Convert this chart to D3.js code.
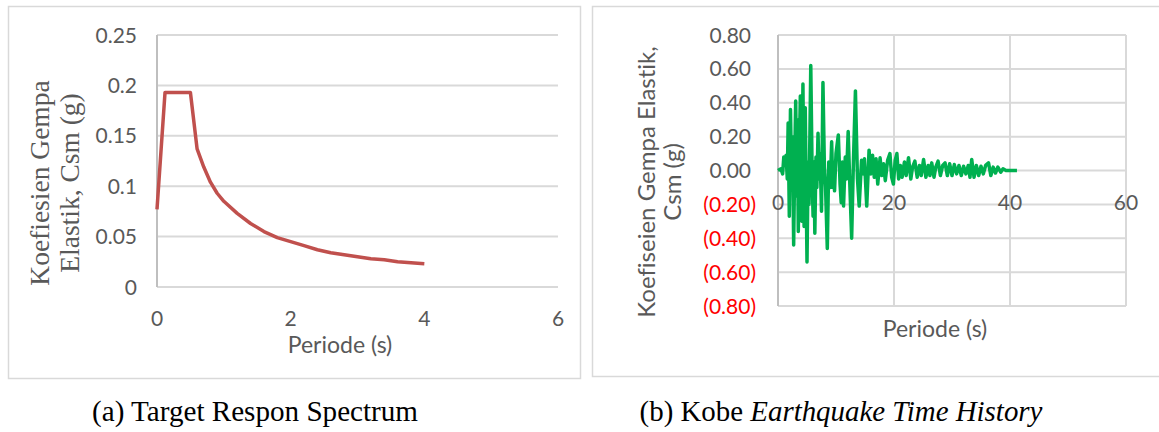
<!DOCTYPE html>
<html>
<head>
<meta charset="utf-8">
<script src="https://cdn.jsdelivr.net/npm/d3@7"></script>
<style>
  body { margin: 0; background: #fff; }
  svg { display: block; }
</style>
</head>
<body>
<svg id="chart" width="1159" height="432"></svg>
<script>
// Target response spectrum + Kobe time history, two panels side by side

// (a) spectrum
var specPeriod = [0, 0.12, 0.5, 0.6, 0.7, 0.8, 0.9, 1.0, 1.2, 1.4, 1.6, 1.8, 2.0,
                  2.2, 2.4, 2.6, 2.8, 3.0, 3.2, 3.4, 3.6, 3.8, 4.0];
var specCsm = [0.077, 0.193, 0.193, 0.137, 0.119, 0.104, 0.093, 0.085, 0.073, 0.063,
               0.055, 0.049, 0.045, 0.041, 0.037, 0.034, 0.032, 0.030, 0.028, 0.027,
               0.025, 0.024, 0.023];
var specXTicks = [0, 2, 4, 6];
var specYTicks = [0, 0.05, 0.1, 0.15, 0.2, 0.25];

// (b) Kobe record
var histTime = [0, 0.5, 0.8, 1.0, 1.2, 1.4, 1.6, 1.75, 1.95, 2.15, 2.35, 2.5, 2.7, 2.9,
  3.05, 3.25, 3.35, 3.5, 3.7, 3.85, 4.0, 4.1, 4.3, 4.5, 4.7, 4.85, 5.0, 5.2, 5.35, 5.65,
  5.9, 6.05, 6.2, 6.35, 6.55, 6.7, 6.9, 7.1, 7.25, 7.5, 7.75, 8.0, 8.2, 8.5, 8.75, 9.0,
  9.25, 9.45, 9.6, 9.75, 10.0, 10.4, 10.7, 10.9, 11.1, 11.3, 11.6, 11.8, 12.1, 12.35,
  12.7, 13.0, 13.35, 13.7, 14.0, 14.4, 14.7, 14.9, 15.3, 15.7, 16.0, 16.3, 16.6, 16.9,
  17.2, 17.6, 17.9, 18.2, 18.5, 18.9, 19.3, 19.6, 19.9, 20.2, 20.5, 20.8, 21.1, 21.4,
  21.8, 22.1, 22.5, 22.9, 23.2, 23.6, 24.0, 24.4, 24.7, 25.1, 25.5, 25.9, 26.2, 26.5,
  26.9, 27.2, 27.6, 28.0, 28.4, 28.8, 29.2, 29.6, 30.0, 30.4, 30.8, 31.2, 31.6, 32.0,
  32.4, 32.8, 33.1, 33.4, 33.8, 34.2, 34.6, 35.0, 35.4, 35.8, 36.3, 36.7, 37.1, 37.5,
  37.9, 38.4, 38.8, 39.3, 40.0, 41.2];
var histCsm = [0, 0.01, -0.02, 0.08, 0.03, 0.09, -0.05, 0.28, -0.27, 0.36, -0.05, 0.20,
  -0.44, 0.10, 0.41, -0.15, 0.30, -0.36, 0.15, 0.44, -0.10, -0.30, 0.51, -0.33, 0.37,
  -0.10, -0.54, 0.05, -0.20, 0.62, -0.05, -0.27, 0.05, -0.37, 0.08, -0.10, 0.22, -0.05,
  0.10, -0.24, 0.52, 0.02, -0.10, -0.46, 0.05, -0.10, 0.17, -0.10, 0.05, -0.12, 0.10,
  0.21, -0.08, -0.19, 0.05, -0.21, 0.08, -0.05, 0.23, -0.05, -0.40, 0.05, 0.47, -0.05,
  -0.21, 0.06, -0.02, 0.07, -0.21, 0.12, -0.02, 0.09, -0.04, 0.07, -0.08, 0.075, -0.03,
  0.04, -0.06, 0.06, 0.10, -0.04, -0.08, 0.06, 0.10, -0.05, 0.03, -0.04, 0.05, -0.03,
  0.075, -0.05, 0.02, 0.055, -0.04, 0.03, -0.03, 0.065, -0.04, 0.03, -0.03, 0.045,
  -0.04, 0.02, 0.055, -0.03, 0.03, 0.045, -0.03, 0.04, -0.03, 0.035, -0.02, 0.03, -0.03,
  0.025, -0.02, 0.03, -0.04, 0.065, -0.04, 0.03, -0.03, 0.025, -0.02, 0.03, 0.045, -0.03,
  0.02, -0.015, 0.02, -0.01, 0.01, 0, 0, 0];
var histXTicks = [0, 20, 40, 60];
var histYTicks = [-0.8, -0.6, -0.4, -0.2, 0, 0.2, 0.4, 0.6, 0.8];

var SANS = "Lato, 'Open Sans', sans-serif";
var SERIF = "'Liberation Serif', 'Times New Roman', serif";
var GRID = "#d9d9d9";
var TEXT = "#595959";

var svg = d3.select("#chart");

// panel frames
svg.append("rect").attr("x", 8.5).attr("y", 6.5).attr("width", 572).attr("height", 372)
  .attr("fill", "none").attr("stroke", GRID).attr("stroke-width", 1.5);
svg.append("rect").attr("x", 592.5).attr("y", 6.5).attr("width", 570).attr("height", 370)
  .attr("fill", "none").attr("stroke", GRID).attr("stroke-width", 1.5);

///////////////////////////////////////////////////////////////////////////////
// (a) Target respon spectrum

var xA = d3.scaleLinear().domain([0, 6]).range([157, 558]);
var yA = d3.scaleLinear().domain([0, 0.25]).range([287, 35]);

var gA = svg.append("g");

gA.selectAll("line.grid").data(specYTicks).enter().append("line")
  .attr("x1", xA(0)).attr("x2", xA(6))
  .attr("y1", function (d) { return yA(d); })
  .attr("y2", function (d) { return yA(d); })
  .attr("stroke", GRID).attr("stroke-width", 2);

gA.append("line")
  .attr("x1", xA(0)).attr("x2", xA(0)).attr("y1", yA(0.25)).attr("y2", yA(0))
  .attr("stroke", "#bfbfbf").attr("stroke-width", 2);

gA.selectAll("text.ytick").data(specYTicks).enter().append("text")
  .attr("x", 137).attr("y", function (d) { return yA(d) + 7.5; })
  .attr("text-anchor", "end")
  .style("font", "21px " + SANS).attr("fill", TEXT)
  .text(function (d) { return String(d); });

gA.selectAll("text.xtick").data(specXTicks).enter().append("text")
  .attr("x", function (d) { return xA(d); }).attr("y", 326)
  .attr("text-anchor", "middle")
  .style("font", "21px " + SANS).attr("fill", TEXT)
  .text(function (d) { return d; });

gA.append("path")
  .datum(d3.zip(specPeriod, specCsm))
  .attr("fill", "none").attr("stroke", "#c0504d").attr("stroke-width", 3.5)
  .attr("stroke-linejoin", "round")
  .attr("d", d3.line().x(function (d) { return xA(d[0]); }).y(function (d) { return yA(d[1]); }));

gA.append("text").attr("x", 340).attr("y", 353).attr("text-anchor", "middle")
  .style("font", "23px " + SANS).attr("fill", TEXT).text("Periode (s)");

var ylabA = gA.append("text").attr("transform", "translate(49,183) rotate(-90)")
  .attr("text-anchor", "middle").style("font", "27.5px " + SERIF).attr("fill", TEXT);
ylabA.append("tspan").attr("x", 0).attr("dy", 0).text("Koefiesien Gempa");
ylabA.append("tspan").attr("x", 0).attr("dy", 30).text("Elastik, Csm (g)");

///////////////////////////////////////////////////////////////////////////////
// (b) Kobe earthquake time history

var xB = d3.scaleLinear().domain([0, 60]).range([778, 1126]);
var yB = d3.scaleLinear().domain([-0.8, 0.8]).range([306, 35]);

var gB = svg.append("g");

gB.selectAll("line.hgrid").data(histYTicks).enter().append("line")
  .attr("x1", xB(0)).attr("x2", xB(60))
  .attr("y1", function (d) { return yB(d); })
  .attr("y2", function (d) { return yB(d); })
  .attr("stroke", GRID).attr("stroke-width", 2);

gB.selectAll("line.vgrid").data(histXTicks).enter().append("line")
  .attr("x1", function (d) { return xB(d); })
  .attr("x2", function (d) { return xB(d); })
  .attr("y1", yB(0.8)).attr("y2", yB(-0.8))
  .attr("stroke", function (d) { return d === 0 ? "#bfbfbf" : GRID; })
  .attr("stroke-width", 2);

var fmt = d3.format(".2f");
gB.selectAll("text.ytick").data(histYTicks).enter().append("text")
  .attr("x", function (d) { return d < 0 ? 756 : 751; })
  .attr("y", function (d) { return yB(d) + 7.5; })
  .attr("text-anchor", "end")
  .style("font", "21px " + SANS)
  .attr("fill", function (d) { return d < 0 ? "#ff0000" : TEXT; })
  .text(function (d) { return d < 0 ? "(" + fmt(-d) + ")" : fmt(d); });

gB.selectAll("text.xtick").data(histXTicks).enter().append("text")
  .attr("x", function (d) { return xB(d); }).attr("y", 210)
  .attr("text-anchor", "middle")
  .style("font", "21px " + SANS).attr("fill", TEXT)
  .text(function (d) { return d; });

gB.append("path")
  .datum(d3.zip(histTime, histCsm))
  .attr("fill", "none").attr("stroke", "#00b050").attr("stroke-width", 3.5)
  .attr("stroke-linejoin", "round")
  .attr("d", d3.line().x(function (d) { return xB(d[0]); }).y(function (d) { return yB(d[1]); }));

gB.append("text").attr("x", 935).attr("y", 337).attr("text-anchor", "middle")
  .style("font", "23px " + SANS).attr("fill", TEXT).text("Periode (s)");

var ylabB = gB.append("text").attr("transform", "translate(655,182) rotate(-90)")
  .attr("text-anchor", "middle").style("font", "24px " + SANS)
  .style("font-variant-ligatures", "none").attr("fill", TEXT);
ylabB.append("tspan").attr("x", 0).attr("dy", 0).text("Koefiseien Gempa Elastik,");
ylabB.append("tspan").attr("x", 0).attr("dy", 26).text("Csm (g)");

///////////////////////////////////////////////////////////////////////////////
// captions, sized to the widths in the source figure

function caption(cx, width, parts) {
  var t = svg.append("text").attr("x", cx).attr("y", 421)
    .attr("text-anchor", "middle").style("font-family", SERIF)
    .style("font-size", "28px").attr("fill", "#000");
  parts.forEach(function (p) {
    t.append("tspan").style("font-style", p.italic ? "italic" : "normal").text(p.text);
  });
  var w = t.node().getComputedTextLength();
  t.style("font-size", (28 * width / w).toFixed(2) + "px");
}

caption(255, 326, [{ text: "(a) Target Respon Spectrum" }]);
caption(841, 403, [{ text: "(b) Kobe " }, { text: "Earthquake Time History", italic: true }]);
</script>
</body>
</html>
